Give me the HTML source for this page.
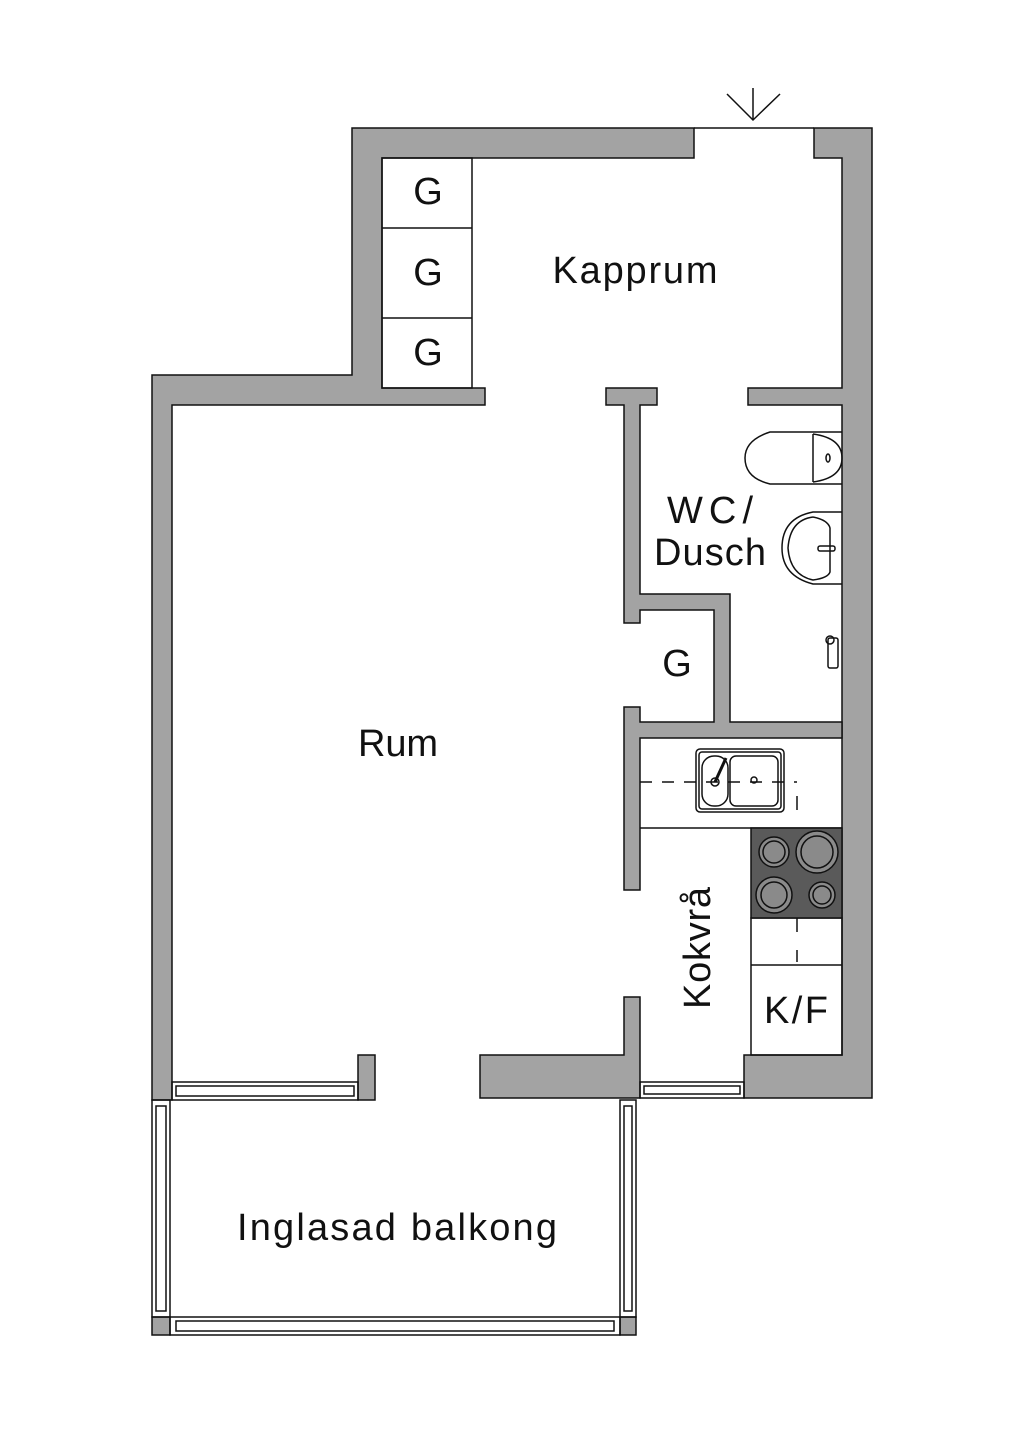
<!DOCTYPE html>
<html><head><style>body{margin:0;background:#fff}svg{display:block}text{font-family:"Liberation Sans",sans-serif;fill:#111}</style></head><body>
<svg width="1024" height="1448" viewBox="0 0 1024 1448" xmlns="http://www.w3.org/2000/svg">
<g fill="#a3a3a3" stroke="#111" stroke-width="1.5">
<polygon points="352,128 694,128 694,158 382,158 382,388 485,388 485,405 172,405 172,1100 152,1100 152,375 352,375"/>
<polygon points="814,128 872,128 872,1098 744,1098 744,1055 842,1055 842,405 748,405 748,388 842,388 842,158 814,158"/>
<polygon points="606,388 657,388 657,405 640,405 640,594 730,594 730,722 842,722 842,738 640,738 640,890 624,890 624,707 640,707 640,722 714,722 714,610 640,610 640,623 624,623 624,405 606,405"/>
<polygon points="624,997 640,997 640,1098 480,1098 480,1055 624,1055"/>
<rect x="358" y="1055" width="17" height="45"/>
<rect x="152" y="1317" width="18" height="18"/>
<rect x="620" y="1317" width="16" height="18"/>
</g>
<g fill="none" stroke="#111" stroke-width="1.5">
<line x1="694" y1="128" x2="814" y2="128"/>
<line x1="753" y1="88" x2="753" y2="120"/><polyline points="727,94 753,120 780,94"/>
<rect x="382" y="158" width="90" height="230"/><line x1="382" y1="228" x2="472" y2="228"/><line x1="382" y1="318" x2="472" y2="318"/>
<rect x="172" y="1082" width="186" height="18"/><rect x="176" y="1086" width="178" height="10"/>
<rect x="640" y="1082" width="104" height="16"/><rect x="644" y="1086" width="96" height="8"/>
<rect x="152" y="1100" width="18" height="217"/><rect x="156" y="1106" width="10" height="205"/>
<rect x="620" y="1100" width="16" height="217"/><rect x="624" y="1106" width="8" height="205"/>
<rect x="170" y="1317" width="450" height="18"/><rect x="176" y="1321" width="438" height="10"/>
<line x1="640" y1="828" x2="842" y2="828"/>
<rect x="751" y="918" width="91" height="137"/><line x1="751" y1="965" x2="842" y2="965"/>
<line x1="797" y1="918" x2="797" y2="932"/><line x1="797" y1="950" x2="797" y2="962"/>
<rect x="696" y="749" width="88" height="63" rx="4"/><rect x="699" y="752" width="82" height="57" rx="3"/>
<rect x="702" y="756" width="26" height="50" rx="12"/><rect x="730" y="756" width="48" height="50" rx="6"/>
<line x1="640" y1="782" x2="797" y2="782" stroke-dasharray="12,10"/>
<line x1="797" y1="796" x2="797" y2="810"/>
<circle cx="715" cy="782" r="4"/><circle cx="754" cy="780" r="3"/><line x1="715" y1="782" x2="726" y2="758" stroke-width="3"/>
<path d="M842,432 L770,432 Q745,440 745,458 Q745,478 770,484 L842,484"/><line x1="813" y1="434" x2="813" y2="482"/><path d="M813,434 Q842,438 842,458 Q842,478 813,482"/><ellipse cx="828" cy="458" rx="2" ry="4"/>
<path d="M842,512 L813,512 Q782,518 782,548 Q782,576 813,584 L842,584"/><path d="M813,517 Q828,520 830,528 L830,572 Q828,578 813,580 Q790,575 788,548 Q790,520 813,517"/><rect x="818" y="546" width="17" height="5" rx="2"/>
<rect x="828" y="638" width="10" height="30" rx="2"/><circle cx="830" cy="640" r="4"/>
</g>
<rect x="751" y="828" width="91" height="90" fill="#5a5a5a" stroke="#111" stroke-width="1.5"/>
<g fill="#8a8a8a" stroke="#111" stroke-width="1.5">
<circle cx="774" cy="852" r="15"/><circle cx="774" cy="852" r="11"/>
<circle cx="817" cy="852" r="21"/><circle cx="817" cy="852" r="16"/>
<circle cx="774" cy="895" r="18"/><circle cx="774" cy="895" r="13"/>
<circle cx="822" cy="895" r="13"/><circle cx="822" cy="895" r="9"/>
</g>
<g font-size="38" text-anchor="middle">
<text x="635" y="283" textLength="165" lengthAdjust="spacing">Kapprum</text>
<text x="428" y="204">G</text><text x="428" y="285">G</text><text x="428" y="365">G</text>
<text x="398" y="756" textLength="80" lengthAdjust="spacing">Rum</text>
<text x="710" y="523" textLength="86" lengthAdjust="spacing">WC/</text><text x="710" y="565" textLength="112" lengthAdjust="spacing">Dusch</text>
<text x="677" y="676">G</text>
<text x="796" y="1023" textLength="64" lengthAdjust="spacing">K/F</text>
<text transform="translate(710,948) rotate(-90)" textLength="122" lengthAdjust="spacing">Kokvrå</text>
<text x="397" y="1240" textLength="320" lengthAdjust="spacing">Inglasad balkong</text>
</g>
</svg>
</body></html>
